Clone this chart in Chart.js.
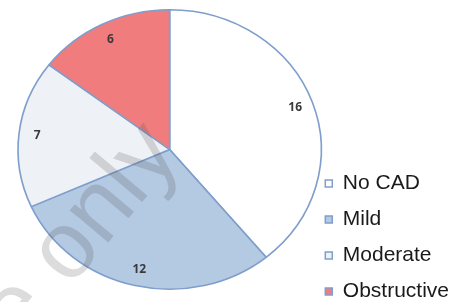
<!DOCTYPE html>
<html>
<head>
<meta charset="utf-8">
<script src="https://cdn.jsdelivr.net/npm/chart.js@4.4.1/dist/chart.umd.min.js"></script>
<style>
    html, body { margin: 0; padding: 0; background: #ffffff; }
</style>
</head>
<body>
<canvas id="myChart" width="462" height="302"></canvas>
<script>
const categories = ['No CAD', 'Mild', 'Moderate', 'Obstructive'];
const counts = [16, 12, 7, 6];
const sliceColors = ['#ffffff', '#b4c9e2', '#eef1f6', '#f07c7e'];

const STRETCH_X = 1.085; // the original pie is a bit wider than tall

// stretch the pie horizontally, keep text unstretched
const stretchPlugin = {
    id: 'stretch',
    beforeDatasetsDraw(chart) {
        const arc = chart.getDatasetMeta(0).data[0];
        const ctx = chart.ctx;
        ctx.save();
        ctx.translate(arc.x, arc.y);
        ctx.scale(STRETCH_X, 1);
        ctx.translate(-arc.x, -arc.y);
    },
    afterDatasetsDraw(chart) {
        const ctx = chart.ctx;
        ctx.restore();
        // value labels near the rim
        ctx.save();
        ctx.font = 'bold 12px "Open Sans"';
        ctx.fillStyle = '#3a3a3a';
        ctx.textAlign = 'center';
        ctx.textBaseline = 'middle';
        chart.getDatasetMeta(0).data.forEach((arc, i) => {
            const p = arc.getProps(['x', 'y', 'startAngle', 'endAngle', 'outerRadius'], true);
            const mid = (p.startAngle + p.endAngle) / 2;
            const r = p.outerRadius * 0.88;
            ctx.fillText(String(counts[i]), p.x + Math.cos(mid) * r * STRETCH_X, p.y + Math.sin(mid) * r);
        });
        ctx.restore();
    }
};

// push the legend down to the bottom right corner
const legendShift = {
    id: 'legendShift',
    afterLayout(chart) {
        chart.legend.top += 27;
        chart.legend.bottom += 27;
        chart.legend.left -= 3;
        chart.legend.right -= 3;
    }
};

// faint publisher watermark
const watermark = {
    id: 'watermark',
    afterDraw(chart) {
        const ctx = chart.ctx;
        ctx.save();
        ctx.translate(70, 288);
        ctx.rotate(-50 * Math.PI / 180);
        ctx.font = '95px "Liberation Sans"';
        ctx.fillStyle = 'rgba(80, 80, 80, 0.2)';
        ctx.textBaseline = 'alphabetic';
        ctx.textAlign = 'left';
        ctx.fillText('only', 0, 0);
        ctx.textAlign = 'right';
        ctx.fillText('use ', 0, 0);
        ctx.restore();
    }
};

const ctx = document.getElementById('myChart').getContext('2d');
const chart = new Chart(ctx, {
    type: 'pie',
    data: {
        labels: categories,
        datasets: [{
            data: counts,
            backgroundColor: sliceColors,
            borderColor: '#7f9ecb',
            borderWidth: 1.5
        }]
    },
    options: {
        responsive: false,
        animation: false,
        layout: { padding: { top: 9, bottom: 12, left: 26, right: 0 } },
        plugins: {
            legend: {
                position: 'right',
                align: 'end',
                labels: {
                    boxWidth: 7,
                    boxHeight: 7,
                    padding: 15,
                    color: '#1a1a1a',
                    font: { family: "'Liberation Sans', Arial, sans-serif", size: 21 }
                }
            },
            tooltip: { enabled: false }
        }
    },
    plugins: [stretchPlugin, legendShift, watermark]
});
</script>
</body>
</html>
